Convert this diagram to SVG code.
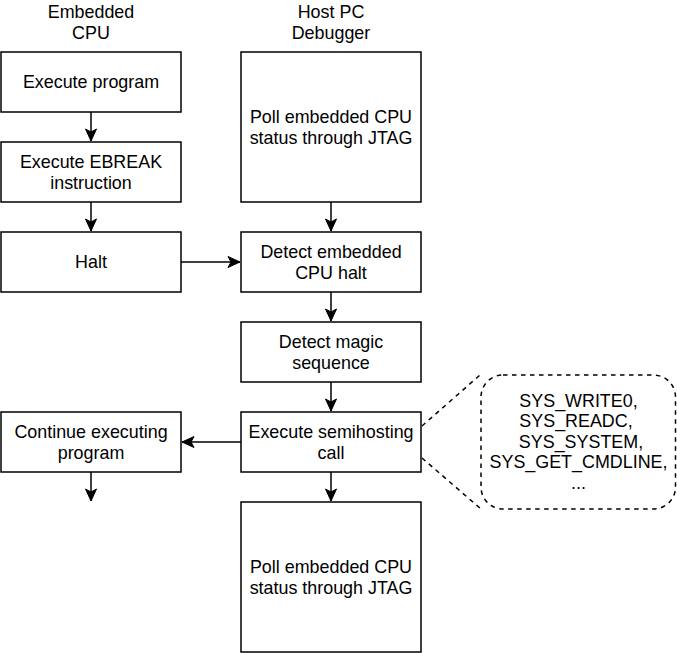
<svg xmlns="http://www.w3.org/2000/svg" width="677" height="653" viewBox="0 0 677 653">
<defs>
<style>
.box{fill:#fff;stroke:#000;stroke-width:1.5}
.t{font-family:"Liberation Sans",Arial,sans-serif;font-size:17.9px;fill:#000;text-anchor:middle}
.c{stroke:#000;stroke-width:1.5;fill:none}
.d{stroke:#000;stroke-width:1.5;fill:none;stroke-dasharray:4.5 4.5}
</style>
<marker id="arr" markerUnits="userSpaceOnUse" markerWidth="14" markerHeight="14" viewBox="-13 -7 14 14" refX="0" refY="0" orient="auto">
<path d="M0,0 L-12,-5.5 L-9,0 L-12,5.5 Z" fill="#000" stroke="#000" stroke-width="1"/>
</marker>
</defs>
<rect width="677" height="653" fill="#fff"/>
<g id="headers">
<text class="t" x="91" y="18.3">Embedded</text>
<text class="t" x="91" y="38.8">CPU</text>
<text class="t" x="331" y="18.3">Host PC</text>
<text class="t" x="331" y="38.8">Debugger</text>
</g>
<g id="connectors">
<line class="c" x1="91" y1="112" x2="91" y2="141" marker-end="url(#arr)"/>
<line class="c" x1="91" y1="202" x2="91" y2="231" marker-end="url(#arr)"/>
<line class="c" x1="181" y1="262" x2="240" y2="262" marker-end="url(#arr)"/>
<line class="c" x1="331" y1="202" x2="331" y2="231" marker-end="url(#arr)"/>
<line class="c" x1="331" y1="292" x2="331" y2="321" marker-end="url(#arr)"/>
<line class="c" x1="331" y1="382" x2="331" y2="411" marker-end="url(#arr)"/>
<line class="c" x1="241" y1="442" x2="182" y2="442" marker-end="url(#arr)"/>
<line class="c" x1="91" y1="472" x2="91" y2="501" marker-end="url(#arr)"/>
<line class="c" x1="331" y1="472" x2="331" y2="501" marker-end="url(#arr)"/>
<line class="d" x1="422" y1="426" x2="480" y2="375"/>
<line class="d" x1="422" y1="458" x2="481" y2="509"/>
</g>
<g id="exec-program">
<rect class="box" x="1" y="52" width="180" height="60"/>
<text class="t" x="91" y="88.3">Execute program</text>
</g>
<g id="exec-ebreak">
<rect class="box" x="1" y="142" width="180" height="60"/>
<text class="t" x="91" y="168.3">Execute EBREAK</text>
<text class="t" x="91" y="188.8">instruction</text>
</g>
<g id="halt">
<rect class="box" x="1" y="232" width="180" height="60"/>
<text class="t" x="91" y="268.3">Halt</text>
</g>
<g id="continue">
<rect class="box" x="1" y="412" width="180" height="60"/>
<text class="t" x="91" y="438.3">Continue executing</text>
<text class="t" x="91" y="458.8">program</text>
</g>
<g id="poll1">
<rect class="box" x="241" y="52" width="180" height="150"/>
<text class="t" x="331" y="123.3">Poll embedded CPU</text>
<text class="t" x="331" y="143.8">status through JTAG</text>
</g>
<g id="detect-halt">
<rect class="box" x="241" y="232" width="180" height="60"/>
<text class="t" x="331" y="258.3">Detect embedded</text>
<text class="t" x="331" y="278.8">CPU halt</text>
</g>
<g id="magic">
<rect class="box" x="241" y="322" width="180" height="60"/>
<text class="t" x="331" y="348.3">Detect magic</text>
<text class="t" x="331" y="368.8">sequence</text>
</g>
<g id="semihosting">
<rect class="box" x="241" y="412" width="180" height="60"/>
<text class="t" x="331" y="438.3">Execute semihosting</text>
<text class="t" x="331" y="458.8">call</text>
</g>
<g id="poll2">
<rect class="box" x="241" y="502" width="180" height="150"/>
<text class="t" x="331" y="573.3">Poll embedded CPU</text>
<text class="t" x="331" y="593.8">status through JTAG</text>
</g>
<g id="callout">
<rect x="481" y="375" width="194.5" height="134" rx="22" ry="22" fill="#fff" stroke="#000" stroke-width="1.5" stroke-dasharray="4.5 4.5"/>
<text class="t" xml:space="preserve" x="578.5" y="406.7">SYS_WRITE0,</text>
<text class="t" xml:space="preserve" x="578.5" y="427.2">SYS_READC, </text>
<text class="t" xml:space="preserve" x="578.5" y="447.7"> SYS_SYSTEM,</text>
<text class="t" xml:space="preserve" x="578.5" y="468.2">SYS_GET_CMDLINE,</text>
<text class="t" xml:space="preserve" x="578.5" y="488.7">...</text>
</g>
</svg>
